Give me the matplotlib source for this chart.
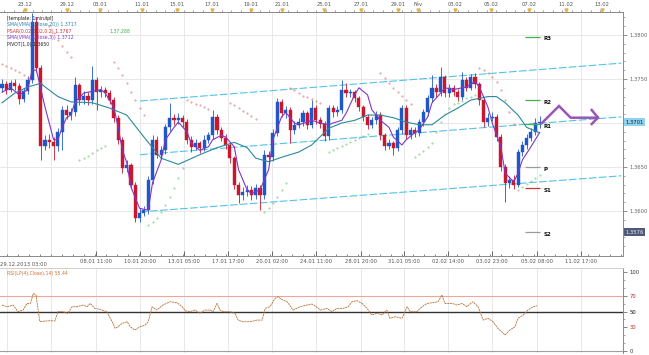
import matplotlib
matplotlib.use("Agg")
import matplotlib.pyplot as plt
import matplotlib.transforms as mtransforms
import numpy as np

# ---- price data (4h candles) ----
FIRST_OPEN = 1.3740
closes = [
    1.3744, 1.3738, 1.3745, 1.3742, 1.3727, 1.3736, 1.3749, 1.3815, 1.3762, 1.3674,
    1.3681, 1.3678, 1.3674, 1.3690, 1.3715, 1.3709, 1.3712, 1.3743, 1.3726, 1.3731,
    1.3726, 1.3749, 1.3735, 1.3738, 1.3734, 1.3726, 1.3706, 1.3681, 1.3649, 1.3652,
    1.3630, 1.3592, 1.3598, 1.3601, 1.3635, 1.3681, 1.3664, 1.3669, 1.3695, 1.3706,
    1.3703, 1.3706, 1.3701, 1.3681, 1.3673, 1.3677, 1.3672, 1.3681, 1.3686, 1.3707,
    1.3692, 1.3683, 1.3675, 1.3660, 1.3630, 1.3618, 1.3622, 1.3624, 1.3618, 1.3626,
    1.3618, 1.3664, 1.3661, 1.3689, 1.3724, 1.3711, 1.3715, 1.3692, 1.3698, 1.3701,
    1.3711, 1.3698, 1.3717, 1.3703, 1.3699, 1.3685, 1.3717, 1.3712, 1.3715, 1.3738,
    1.3734, 1.3735, 1.3728, 1.3718, 1.3707, 1.3698, 1.3703, 1.3709, 1.3686, 1.3674,
    1.3677, 1.3672, 1.3692, 1.3717, 1.3686, 1.3692, 1.3689, 1.3701, 1.3712, 1.3728,
    1.3740, 1.3735, 1.3752, 1.3734, 1.3740, 1.3735, 1.3730, 1.3749, 1.3740, 1.3752,
    1.3744, 1.3726, 1.3701, 1.3706, 1.3707, 1.3684, 1.3650, 1.3632, 1.3635, 1.3630,
    1.3667, 1.3675, 1.3683, 1.3690, 1.3700, 1.3701,
]
highs = [
    1.3750, 1.3748, 1.3749, 1.3750, 1.3745, 1.3740, 1.3753, 1.3825, 1.3820, 1.3766,
    1.3686, 1.3687, 1.3684, 1.3694, 1.3719, 1.3720, 1.3717, 1.3752, 1.3746, 1.3736,
    1.3735, 1.3765, 1.3752, 1.3742, 1.3741, 1.3738, 1.3729, 1.3709, 1.3684, 1.3658,
    1.3655, 1.3633, 1.3603, 1.3606, 1.3640, 1.3686, 1.3685, 1.3674, 1.3699, 1.3723,
    1.3710, 1.3711, 1.3709, 1.3704, 1.3685, 1.3682, 1.3680, 1.3686, 1.3690, 1.3715,
    1.3710, 1.3695, 1.3687, 1.3678, 1.3663, 1.3633, 1.3627, 1.3629, 1.3628, 1.3631,
    1.3630, 1.3669, 1.3668, 1.3693, 1.3728, 1.3727, 1.3719, 1.3718, 1.3702, 1.3706,
    1.3715, 1.3714, 1.3726, 1.3720, 1.3707, 1.3702, 1.3721, 1.3720, 1.3719, 1.3749,
    1.3745, 1.3739, 1.3738, 1.3731, 1.3721, 1.3710, 1.3707, 1.3714, 1.3712, 1.3689,
    1.3682, 1.3680, 1.3696, 1.3721, 1.3720, 1.3696, 1.3695, 1.3705, 1.3716, 1.3732,
    1.3755, 1.3744, 1.3764, 1.3755, 1.3744, 1.3743, 1.3739, 1.3758, 1.3752, 1.3756,
    1.3757, 1.3747, 1.3729, 1.3711, 1.3712, 1.3710, 1.3687, 1.3653, 1.3640, 1.3641,
    1.3671, 1.3679, 1.3687, 1.3694, 1.3706, 1.3708,
]
lows = [
    1.3735, 1.3733, 1.3735, 1.3738, 1.3722, 1.3724, 1.3733, 1.3745, 1.3758, 1.3658,
    1.3669, 1.3672, 1.3658, 1.3668, 1.3669, 1.3704, 1.3703, 1.3708, 1.3721, 1.3722,
    1.3720, 1.3722, 1.3715, 1.3730, 1.3729, 1.3722, 1.3701, 1.3676, 1.3643, 1.3644,
    1.3625, 1.3587, 1.3588, 1.3594, 1.3597, 1.3631, 1.3660, 1.3659, 1.3665, 1.3691,
    1.3698, 1.3699, 1.3696, 1.3676, 1.3667, 1.3669, 1.3666, 1.3668, 1.3677, 1.3682,
    1.3688, 1.3679, 1.3670, 1.3655, 1.3625, 1.3609, 1.3613, 1.3617, 1.3613, 1.3614,
    1.3601, 1.3614, 1.3656, 1.3657, 1.3685, 1.3707, 1.3706, 1.3677, 1.3688, 1.3694,
    1.3697, 1.3693, 1.3694, 1.3699, 1.3694, 1.3680, 1.3681, 1.3707, 1.3708, 1.3711,
    1.3730, 1.3730, 1.3724, 1.3714, 1.3702, 1.3693, 1.3694, 1.3699, 1.3681, 1.3669,
    1.3670, 1.3664, 1.3668, 1.3688, 1.3682, 1.3682, 1.3684, 1.3685, 1.3697, 1.3708,
    1.3724, 1.3730, 1.3731, 1.3729, 1.3730, 1.3731, 1.3725, 1.3726, 1.3736, 1.3737,
    1.3740, 1.3721, 1.3696, 1.3697, 1.3702, 1.3679, 1.3645, 1.3610, 1.3626, 1.3625,
    1.3627, 1.3662, 1.3671, 1.3679, 1.3686, 1.3694,
]

# slow moving average (teal), read at a few candles
teal_pos = [0, 3, 6, 9, 10, 13, 16, 21, 25, 29, 33, 37, 41, 46, 50, 54, 57, 59, 62, 65,
            69, 72, 76, 79, 82, 85, 88, 91, 94, 97, 100, 103, 106, 109, 113, 115, 117, 120, 122, 125]
teal_val = [1.3723, 1.3734, 1.3741, 1.3745, 1.3741, 1.3730, 1.3724, 1.3723, 1.3717, 1.3709,
            1.3684, 1.3660, 1.3653, 1.3664, 1.3672, 1.3678, 1.3672, 1.3660, 1.3656, 1.3661,
            1.3667, 1.3675, 1.3694, 1.3700, 1.3703, 1.3709, 1.3709, 1.3706, 1.3701, 1.3698,
            1.3698, 1.3709, 1.3717, 1.3726, 1.3730, 1.3730, 1.3723, 1.3709, 1.3695, 1.3689]

# fast moving average (purple)
purple_pos = [0, 2, 4, 6, 7, 8, 10, 12, 13, 14, 15, 16, 17, 19, 20, 23, 24, 26, 27, 28,
              29, 30, 32, 34, 35, 37, 38, 40, 41, 43, 44, 46, 48, 49, 51, 52, 54, 55, 57, 58,
              60, 62, 63, 65, 66, 68, 69, 71, 72, 74, 76, 77, 79, 80, 82, 83, 85, 86, 88, 90,
              91, 93, 94, 96, 97, 99, 100, 102, 103, 105, 107, 108, 110, 111, 113, 114, 116, 117, 119, 120,
              121, 123, 125]
purple_val = [1.3735, 1.3740, 1.3732, 1.3738, 1.3760, 1.3760, 1.3718, 1.3681, 1.3681, 1.3695,
              1.3706, 1.3709, 1.3724, 1.3734, 1.3735, 1.3738, 1.3734, 1.3718, 1.3695, 1.3669,
              1.3655, 1.3627, 1.3603, 1.3601, 1.3632, 1.3658, 1.3681, 1.3695, 1.3701, 1.3690,
              1.3677, 1.3669, 1.3673, 1.3681, 1.3686, 1.3684, 1.3673, 1.3647, 1.3624, 1.3620,
              1.3624, 1.3647, 1.3681, 1.3707, 1.3712, 1.3700, 1.3698, 1.3701, 1.3703, 1.3700,
              1.3698, 1.3700, 1.3703, 1.3711, 1.3732, 1.3740, 1.3732, 1.3715, 1.3703, 1.3695,
              1.3684, 1.3675, 1.3681, 1.3689, 1.3692, 1.3707, 1.3723, 1.3734, 1.3740, 1.3738,
              1.3740, 1.3741, 1.3747, 1.3741, 1.3718, 1.3700, 1.3673, 1.3643, 1.3633, 1.3643,
              1.3658, 1.3673, 1.3689]

# parabolic SAR dots
sar_dn_pos = [0, 1, 2, 3, 4, 5, 6, 10, 11, 12, 13, 14, 15, 16,
              26, 27, 28, 29, 30, 31, 32, 33, 43, 44, 45, 46, 47, 48,
              53, 54, 55, 56, 57, 58, 59, 67, 68, 69, 70, 71, 72, 73, 74,
              88, 89, 90, 91, 92, 93, 94, 95, 111, 112, 113, 114, 115, 116, 117, 118, 119]
sar_dn_val = [1.3767, 1.3765, 1.3762, 1.3760, 1.3758, 1.3755, 1.3751,
              1.3819, 1.3810, 1.3802, 1.3794, 1.3787, 1.3781, 1.3775,
              1.3769, 1.3762, 1.3755, 1.3745, 1.3735, 1.3726, 1.3717, 1.3709,
              1.3726, 1.3724, 1.3722, 1.3720, 1.3718, 1.3716,
              1.3723, 1.3720, 1.3717, 1.3714, 1.3711, 1.3708, 1.3705,
              1.3740, 1.3737, 1.3734, 1.3731, 1.3729, 1.3727, 1.3725, 1.3723,
              1.3757, 1.3751, 1.3745, 1.3740, 1.3735, 1.3731, 1.3726, 1.3722,
              1.3762, 1.3760, 1.3757, 1.3752, 1.3747, 1.3738, 1.3726, 1.3712, 1.3699]
sar_up_pos = [18, 19, 20, 21, 22, 23, 24, 34, 35, 36, 37, 38, 39, 40, 41, 42,
              61, 62, 63, 64, 65, 66, 76, 77, 78, 79, 80, 81, 82, 83, 84, 85,
              96, 97, 98, 99, 100, 101, 102, 103, 104, 105, 106, 107, 108, 109, 110,
              120, 121, 122, 123, 124, 125]
sar_up_val = [1.3658, 1.3660, 1.3663, 1.3666, 1.3669, 1.3672, 1.3674,
              1.3584, 1.3588, 1.3592, 1.3599, 1.3607, 1.3616, 1.3626, 1.3638, 1.3649,
              1.3599, 1.3603, 1.3609, 1.3616, 1.3624, 1.3632,
              1.3667, 1.3669, 1.3672, 1.3674, 1.3676, 1.3678, 1.3681, 1.3683, 1.3685, 1.3688,
              1.3661, 1.3665, 1.3668, 1.3673, 1.3677, 1.3690, 1.3701, 1.3710, 1.3717, 1.3722,
              1.3723, 1.3725, 1.3728, 1.3730, 1.3732,
              1.3624, 1.3627, 1.3631, 1.3634, 1.3638, 1.3641]

# trend channel (start / end of the three parallel lines)
channel_x = [32.1, 144.0]
channel_upper = [1.3725, 1.3768]
channel_mid = [1.3664, 1.3707]
channel_lower = [1.3599, 1.3640]

# daily pivots
pivot_names = ["R3", "R2", "R1", "P", "S1", "S2"]
pivot_levels = [1.3798, 1.3726, 1.3699, 1.3650, 1.3626, 1.3576]
pivot_colors = ["#3cb44b", "#3cb44b", "#3cb44b", "#9a9a9a", "#d03030", "#9a9a9a"]

# RSI
rsi_pos = [0.0, 1.2, 2.6, 3.7, 4.9, 5.8, 6.6, 7.3, 7.9, 8.4,
           8.8, 10.0, 11.2, 12.3, 13.0, 14.2, 15.3, 16.3, 17.4, 18.8,
           19.8, 20.5, 21.6, 22.8, 24.4, 25.6, 26.3, 27.0, 27.9, 29.1,
           29.8, 30.9, 32.1, 33.3, 34.0, 34.9, 36.0, 37.4, 39.1, 40.7,
           41.9, 42.6, 43.7, 44.9, 46.0, 47.2, 48.4, 49.1, 50.0, 50.7,
           51.4, 53.0, 54.2, 54.9, 56.0, 57.7, 59.3, 60.5, 61.2, 62.3,
           63.5, 64.2, 65.3, 66.3, 67.7, 69.3, 70.9, 72.1, 73.3, 74.0,
           75.6, 76.7, 77.9, 79.3, 80.5, 81.4, 82.6, 83.7, 84.9, 86.0,
           87.2, 88.4, 89.5, 90.2, 91.4, 93.0, 94.2, 94.9, 96.5, 97.2,
           98.8, 100.2, 101.4, 102.3, 103.0, 104.7, 105.8, 107.0, 108.1, 109.5,
           110.7, 111.9, 113.0, 114.2, 115.3, 117.0, 118.1, 119.3, 120.0, 121.2,
           122.3, 123.5, 124.4]
rsi_val = [58.2, 56.1, 58.2, 49.8, 51.9, 60.3, 60.3, 73.0, 70.9, 51.9,
           37.1, 38.0, 38.4, 38.0, 49.8, 49.8, 47.7, 56.1, 56.1, 58.2,
           56.1, 60.3, 54.0, 52.7, 49.8, 37.1, 28.7, 30.8, 35.0, 37.1,
           30.8, 26.6, 30.8, 32.9, 37.1, 56.1, 51.9, 58.2, 62.4, 61.2,
           56.1, 51.0, 49.8, 51.9, 47.7, 51.9, 51.9, 49.8, 60.3, 51.9,
           49.8, 49.8, 47.7, 39.2, 37.1, 37.1, 39.2, 39.2, 54.0, 56.1,
           66.7, 68.8, 64.6, 62.4, 51.9, 56.1, 58.2, 59.5, 55.3, 51.9,
           54.0, 49.8, 54.0, 54.0, 56.1, 62.4, 63.7, 60.3, 54.0, 45.6,
           47.7, 45.6, 51.9, 41.4, 43.4, 41.4, 56.1, 49.8, 49.8, 54.0,
           60.3, 61.2, 62.4, 70.9, 60.3, 60.3, 58.2, 60.3, 56.1, 62.4,
           56.1, 39.2, 41.4, 37.1, 28.7, 20.3, 26.6, 30.8, 41.4, 45.6,
           51.9, 56.1, 57.4]

# axis labels
bottom_pos = [21.9, 32.1, 42.3, 52.6, 62.8, 73.0, 83.5, 93.5, 103.7, 113.9, 124.4, 134.7]
bottom_labels = ["08.01 11:00", "10.01 20:00", "13.01 05:00", "17.01 17:00", "20.01 02:00",
                 "24.01 11:00", "28.01 20:00", "31.01 05:00", "02.02 14:00", "03.02 23:00",
                 "05.02 08:00", "11.02 17:00"]
grid_pos = [1.2, 11.4] + bottom_pos
top_pos = [5.3, 15.1, 22.8, 32.6, 40.7, 48.8, 57.9, 65.1, 74.9, 83.5, 92.1, 96.7,
           105.3, 113.7, 122.6, 131.2, 139.5]
top_labels = ["23.12", "29.12", "03.01", "11.01", "15.01", "17.01", "19.01", "21.01",
              "25.01", "27.01", "29.01", "Fév", "03.02", "05.02", "07.02", "11.02", "13.02"]
price_ticks = [1.3600, 1.3650, 1.3750, 1.3800]
last_price = 1.3701

UP = "#1f57c8"
DOWN = "#c8172f"
GRID = "#e4e4e4"

fig = plt.figure(figsize=(6.49, 3.55), dpi=100)
fig.patch.set_facecolor("white")
ax = fig.add_axes([0.0, 0.2789, 0.9599, 0.6873])
rax = fig.add_axes([0.0, 0.0056, 0.9599, 0.2394])

XLIM = (-0.47, 144.4)

# ---------------- main price panel ----------------
for x in grid_pos:
    ax.axvline(x, color=GRID, lw=0.6, zorder=0)
for y in price_ticks + [1.3700]:
    ax.axhline(y, color=GRID, lw=0.6, zorder=0)

idx = np.arange(len(closes))
c = np.array(closes)
o = np.array([FIRST_OPEN] + closes[:-1])
col = np.where(c >= o, UP, DOWN)
ax.vlines(idx, lows, highs, colors=col, lw=0.6, zorder=3)
body = np.maximum(np.abs(c - o), 0.00005)
ax.bar(idx, body, bottom=np.minimum(o, c), width=0.72, color=col,
       edgecolor=col, lw=0.3, zorder=4)

ax.plot(teal_pos, teal_val, color="#2a8a9c", lw=0.8, zorder=5)
ax.plot(purple_pos, purple_val, color="#8036c4", lw=0.8, zorder=6)
ax.plot(sar_dn_pos, sar_dn_val, ls="none", marker=".", ms=0.8, color="#d86060",
        alpha=0.8, zorder=5)
ax.plot(sar_up_pos, sar_up_val, ls="none", marker=".", ms=0.8, color="#60c060",
        alpha=0.8, zorder=5)

for vals in (channel_upper, channel_mid, channel_lower):
    ax.plot(channel_x, vals, color="#52c3e6", lw=0.8, ls=(0, (7, 2)), zorder=2)

for name, lvl, pc in zip(pivot_names, pivot_levels, pivot_colors):
    ax.hlines(lvl, 121.6, 125.1, color=pc, lw=0.9, zorder=5)
    ax.text(125.9, lvl - 0.00025, name, fontsize=4, fontweight="bold", color="#111",
            va="center", ha="left", zorder=7)

# purple zigzag arrow (axes fraction)
ax.plot([0.8695, 0.8973, 0.9160, 0.9599], [0.5439, 0.6148, 0.5668, 0.5668],
        transform=ax.transAxes, color="#9b55b3", lw=1.8, solid_joinstyle="miter",
        clip_on=False, zorder=8)
ax.plot([0.9498, 0.9599, 0.9498], [0.5984, 0.5668, 0.5410],
        transform=ax.transAxes, color="#9b55b3", lw=1.8, clip_on=False, zorder=8)

ax.set_xlim(*XLIM)
ax.set_ylim(1.35489, 1.38261)

ax.spines["left"].set_visible(False)
for s in ("top", "bottom", "right"):
    ax.spines[s].set_color("#8a8a8a")
    ax.spines[s].set_linewidth(0.7)

ax.yaxis.tick_right()
ax.set_yticks(price_ticks)
ax.set_yticklabels([f"{v:.4f}" for v in price_ticks])
ax.set_yticks(np.arange(1.3560, 1.3830, 0.0010), minor=True)
ax.tick_params(axis="y", which="major", direction="out", length=3, width=0.5,
               labelsize=3.8, colors="#666", pad=1.5)
ax.tick_params(axis="y", which="minor", direction="out", length=1.5, width=0.4, colors="#666")

ax.set_xticks(bottom_pos)
ax.set_xticklabels(bottom_labels)
ax.set_xticks(np.arange(1.2, 144, 2.55), minor=True)
ax.tick_params(axis="x", which="major", direction="in", length=3.5, width=0.6,
               labelsize=3.8, colors="#555", pad=2.5)
ax.tick_params(axis="x", which="minor", direction="in", length=1.8, width=0.5, colors="#555")
ax.text(0.0, -0.025, "29.12.2013 03:00", transform=ax.transAxes, fontsize=3.8,
        color="#555", ha="left", va="top")

bt = mtransforms.blended_transform_factory(ax.transAxes, ax.transData)
ax.text(1.004, last_price, f"{last_price:.4f}", transform=bt, fontsize=3.8, color="#123",
        ha="left", va="center",
        bbox=dict(boxstyle="square,pad=0.25", fc="#8fd2f0", ec="none"), clip_on=False)
ax.text(1.004, pivot_levels[-1], f"{pivot_levels[-1]:.4f}", transform=bt, fontsize=3.8,
        color="#e8e8f0", ha="left", va="center",
        bbox=dict(boxstyle="square,pad=0.25", fc="#4e5a78", ec="none"), clip_on=False)

# top date axis
tax = ax.twiny()
tax.set_xlim(*XLIM)
tax.set_xticks(top_pos)
tax.set_xticklabels(top_labels)
tax.set_xticks(np.arange(0.5, 144, 2.2), minor=True)
tax.tick_params(axis="x", which="major", direction="out", length=2.5, width=0.5,
                labelsize=3.8, colors="#555", pad=0.8)
tax.tick_params(axis="x", which="minor", direction="out", length=1.2, width=0.4, colors="#555")
for s in ("left", "right", "bottom"):
    tax.spines[s].set_visible(False)
tax.spines["top"].set_color("#8a8a8a")
tax.spines["top"].set_linewidth(0.7)
tt = mtransforms.blended_transform_factory(tax.transData, tax.transAxes)
tax.plot(top_pos, [1.008] * len(top_pos), transform=tt, ls="none", marker="v", ms=2.2,
         color="#e3b34f", clip_on=False)

# indicator legend, top-left
legend_rows = [
    ("[template: 1min.tpl]", "#222"),
    ("SMA(VMA(7,Close,20)) 1.3717", "#2a7fb0"),
    ("PSAR(0.02,0.02,0.2) 1.3767", "#d03030"),
    ("SMA(VMA(3,Close,3)) 1.3712", "#7d35c0"),
    ("PIVOT(1,0) 1.3650", "#222"),
]
for k, (txt, tc) in enumerate(legend_rows):
    ax.text(0.012, 0.985 - k * 0.027, txt, transform=ax.transAxes, fontsize=3.3,
            color=tc, va="top", ha="left", zorder=9)
ax.text(0.175, 0.985 - 2 * 0.027, "1.37,288", transform=ax.transAxes, fontsize=3.3,
        color="#3cb44b", va="top", ha="left", zorder=9)

# ---------------- RSI panel ----------------
for x in grid_pos:
    rax.axvline(x, color=GRID, lw=0.6, zorder=0)
rax.axhline(70, color="#eaa898", lw=0.8, zorder=1)
rax.axhline(50, color="#333", lw=1.0, zorder=1)
rax.axhline(0, color="#a0a0a0", lw=0.8, zorder=1)
rax.plot(rsi_pos, rsi_val, color="#b86e35", lw=0.6, ls=(0, (2.5, 0.8)), zorder=3)
rax.set_xlim(*XLIM)
rax.set_ylim(-2.5, 105.1)
rax.set_xticks([])
rax.yaxis.tick_right()
rax.set_yticks([0, 30, 50, 70, 100])
rax.set_yticklabels(["0", "30", "50", "70", "100"])
rax.set_yticks(np.arange(0, 101, 10), minor=True)
rax.tick_params(axis="y", which="major", direction="out", length=3, width=0.5,
                labelsize=3.8, colors="#555", pad=1.5)
rax.tick_params(axis="y", which="minor", direction="out", length=1.5, width=0.4, colors="#666")
for lab, lc in zip(rax.get_yticklabels(), ["#333", "#c82020", "#111", "#c82020", "#333"]):
    lab.set_color(lc)
rax.spines["left"].set_visible(False)
rax.spines["bottom"].set_visible(False)
rax.spines["top"].set_color("#cfcfcf")
rax.spines["top"].set_linewidth(0.7)
rax.spines["right"].set_color("#8a8a8a")
rax.spines["right"].set_linewidth(0.7)
rax.text(0.012, 0.97, "RSI(LP(4),Close),14) 55.44", transform=rax.transAxes,
         fontsize=3.3, color="#d07030", va="top", ha="left")

fig.savefig("out.png", dpi=100, facecolor="white")
